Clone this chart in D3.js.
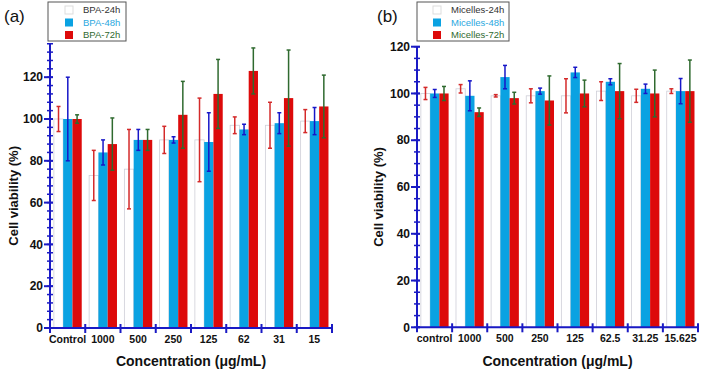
<!DOCTYPE html>
<html>
<head>
<meta charset="utf-8">
<script src="https://cdn.jsdelivr.net/npm/d3@7"></script>
<style>
  body { margin: 0; background: #fff; }
  svg { font-family: "Liberation Sans", Arial, sans-serif; }
</style>
</head>
<body>
<svg id="chart" width="701" height="373"></svg>
<script>
// panel (a) - BPA
const catsA = ["Control", "1000", "500", "250", "125", "62", "31", "15"];
const bpa24 = [100, 73, 76, 90, 90, 97, 97, 99];
const bpa24Err = [6, 12, 19, 6.5, 20, 4, 11, 5.5];
const bpa48 = [100, 84, 90, 90, 89, 95, 98, 99];
const bpa48Err = [20, 6, 5, 1.5, 14, 2.5, 5, 6.5];
const bpa72 = [100, 88, 90, 102, 112, 123, 110, 106];
const bpa72Err = [2, 12.5, 5, 16, 16.5, 11, 23, 15];
const ticksA = [0, 20, 40, 60, 80, 100, 120];

// panel (b) - Micelles
const catsB = ["control", "1000", "500", "250", "125", "62.5", "31.25", "15.625"];
const mic24 = [100, 102, 99, 99, 99, 101, 99, 101];
const mic24Err = [2.6, 1.8, 0.5, 3, 7.3, 4, 2.8, 1];
const mic48 = [100, 99, 107, 101, 109, 105, 102, 101];
const mic48Err = [1.7, 6.4, 5, 1.3, 2.2, 1.3, 2, 5.4];
const mic72 = [100, 92, 98, 97, 100, 101, 100, 101];
const mic72Err = [3, 1.8, 2.5, 10.5, 5.7, 11.8, 10, 13.3];
const ticksB = [0, 20, 40, 60, 80, 100, 120];

const seriesKeys = ["24h", "48h", "72h"];
const barFill = { "24h": "#ffffff", "48h": "#0aa2e2", "72h": "#dd0a0a" };
const barStroke = { "24h": "#cfcfd8", "48h": "none", "72h": "none" };
const errColor = { "24h": "#d42a2a", "48h": "#1717c8", "72h": "#2f6a2f" };
const legendText = { "24h": "#333333", "48h": "#2aa8e0", "72h": "#2f6a2f" };
const axisColor = "#1a1ac4";

const svg = d3.select("#chart");

function drawPanel(opt) {
  const g = svg.append("g");
  const x = d3.scaleBand().domain(opt.cats).range([opt.x0, opt.x1]);
  const inner = d3.scaleBand().domain(seriesKeys)
    .range([x.bandwidth() * 0.11, x.bandwidth() * 0.9]);
  const y = d3.scaleLinear().domain([0, opt.ymax]).range([opt.y0, opt.y1]);

  const rows = [];
  opt.cats.forEach((c, i) => {
    seriesKeys.forEach((k) => {
      rows.push({ cat: c, key: k, v: opt.vals[k][i], e: opt.errs[k][i] });
    });
  });

  // bars
  g.append("g").selectAll("rect").data(rows).enter().append("rect")
    .attr("x", (d) => x(d.cat) + inner(d.key))
    .attr("y", (d) => y(d.v))
    .attr("width", inner.bandwidth())
    .attr("height", (d) => y(0) - y(d.v))
    .attr("fill", (d) => barFill[d.key])
    .attr("stroke", (d) => barStroke[d.key])
    .attr("stroke-width", 0.8);

  // error bars
  const eb = g.append("g").selectAll("g").data(rows).enter().append("g")
    .attr("stroke", (d) => errColor[d.key])
    .attr("stroke-width", 1.5);
  const cx = (d) => x(d.cat) + inner(d.key) + inner.bandwidth() / 2;
  eb.append("line")
    .attr("x1", cx).attr("x2", cx)
    .attr("y1", (d) => y(d.v + d.e)).attr("y2", (d) => y(d.v - d.e));
  eb.append("line")
    .attr("x1", (d) => cx(d) - 2).attr("x2", (d) => cx(d) + 2)
    .attr("y1", (d) => y(d.v + d.e)).attr("y2", (d) => y(d.v + d.e));
  eb.append("line")
    .attr("x1", (d) => cx(d) - 2).attr("x2", (d) => cx(d) + 2)
    .attr("y1", (d) => y(d.v - d.e)).attr("y2", (d) => y(d.v - d.e));

  // y axis
  const ya = g.append("g").attr("stroke", axisColor);
  ya.append("line")
    .attr("x1", opt.x0).attr("x2", opt.x0)
    .attr("y1", y(0) + 1).attr("y2", y(opt.ymax))
    .attr("stroke-width", 2);
  const minor = d3.range(0, opt.ymax + 0.01, opt.minorStep);
  ya.selectAll(".mn").data(minor).enter().append("line")
    .attr("x1", opt.x0 - 3).attr("x2", opt.x0 + 3)
    .attr("y1", (d) => y(d)).attr("y2", (d) => y(d))
    .attr("stroke-width", 1.5);
  ya.selectAll(".mj").data(opt.ticks).enter().append("line")
    .attr("x1", opt.x0 - 6).attr("x2", opt.x0 + 3)
    .attr("y1", (d) => y(d)).attr("y2", (d) => y(d))
    .attr("stroke-width", 2);
  g.append("g").selectAll("text").data(opt.ticks).enter().append("text")
    .attr("x", opt.x0 - 7).attr("y", (d) => y(d))
    .attr("dy", "0.35em")
    .attr("text-anchor", "end")
    .attr("font-size", 12).attr("font-weight", "bold")
    .attr("fill", "#111")
    .text((d) => d);

  // x axis
  const xa = g.append("g").attr("stroke", axisColor);
  xa.append("line")
    .attr("x1", opt.x0).attr("x2", opt.x1)
    .attr("y1", y(0)).attr("y2", y(0))
    .attr("stroke-width", 2);
  const bounds = opt.cats.map((c) => x(c) + x.bandwidth()).concat([opt.x0]);
  xa.selectAll(".xt").data(bounds).enter().append("line")
    .attr("x1", (d) => d).attr("x2", (d) => d)
    .attr("y1", y(0) - 4).attr("y2", y(0) + 5)
    .attr("stroke-width", 2);
  g.append("g").selectAll("text").data(opt.cats).enter().append("text")
    .attr("x", (d) => x(d) + x.bandwidth() / 2)
    .attr("y", y(0) + 15)
    .attr("text-anchor", "middle")
    .attr("font-size", 10.5).attr("font-weight", "bold")
    .attr("fill", "#111")
    .text((d) => d);

  // titles
  g.append("text")
    .attr("x", (opt.x0 + opt.x1) / 2).attr("y", 366)
    .attr("text-anchor", "middle")
    .attr("font-size", 14).attr("font-weight", "bold")
    .attr("fill", "#111")
    .text("Concentration (\u03bcg/mL)");
  g.append("text")
    .attr("transform", `translate(${opt.ytitleX},${(opt.y0 + opt.y1) / 2 + 10}) rotate(-90)`)
    .attr("text-anchor", "middle")
    .attr("font-size", 13).attr("font-weight", "bold")
    .attr("fill", "#111")
    .text("Cell viability (%)");
  g.append("text")
    .attr("x", opt.labelX).attr("y", 22)
    .attr("font-size", 17)
    .attr("fill", "#111")
    .text(opt.label);

  // legend
  const lg = g.append("g").attr("transform", `translate(${opt.legX},2)`);
  lg.append("rect")
    .attr("width", opt.legW).attr("height", 39)
    .attr("fill", "#fff").attr("stroke", "#555").attr("stroke-width", 1);
  seriesKeys.forEach((k, i) => {
    lg.append("rect")
      .attr("x", opt.legSq).attr("y", 4 + i * 12.5)
      .attr("width", 8).attr("height", 8)
      .attr("fill", barFill[k])
      .attr("stroke", k === "24h" ? "#ddd" : "none");
    lg.append("text")
      .attr("x", opt.legSq + 18).attr("y", 8 + i * 12.5)
      .attr("dy", "0.35em")
      .attr("font-size", 9.5)
      .attr("fill", legendText[k])
      .text(opt.legPrefix + k);
  });
}

drawPanel({
  cats: catsA,
  vals: { "24h": bpa24, "48h": bpa48, "72h": bpa72 },
  errs: { "24h": bpa24Err, "48h": bpa48Err, "72h": bpa72Err },
  ticks: ticksA, ymax: 136, minorStep: 4,
  x0: 50, x1: 332, y0: 328, y1: 328 - 136 * 2.09,
  ytitleX: 18, label: "(a)", labelX: 4,
  legX: 48, legW: 78, legSq: 17, legPrefix: "BPA-"
});

drawPanel({
  cats: catsB,
  vals: { "24h": mic24, "48h": mic48, "72h": mic72 },
  errs: { "24h": mic24Err, "48h": mic48Err, "72h": mic72Err },
  ticks: ticksB, ymax: 120, minorStep: 5,
  x0: 417, x1: 698, y0: 327.3, y1: 46.7,
  ytitleX: 383, label: "(b)", labelX: 377,
  legX: 417, legW: 92, legSq: 16, legPrefix: "Micelles-"
});
</script>
</body>
</html>
